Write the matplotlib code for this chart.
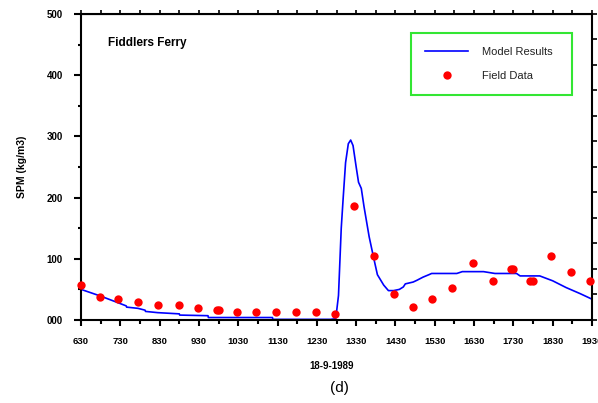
import matplotlib.pyplot as plt
import numpy as np

plt.rcParams['font.family'] = ['Liberation Sans', 'DejaVu Sans']

# time in decimal hours (6.5 = 6:30)
model_t = [6.5, 7.0, 7.45, 7.65, 7.66, 7.95, 8.13, 8.14, 8.45, 9.0, 9.01, 9.73, 9.74,
           11.37, 11.38, 12.85, 12.98, 13.05, 13.12, 13.17, 13.23, 13.3, 13.36, 13.42,
           13.5, 13.56, 13.63, 13.7, 13.83, 13.95, 14.04, 14.2, 14.32, 14.45, 14.6, 14.7,
           14.75, 14.95, 15.05, 15.2, 15.35, 15.42, 16.06, 16.2, 16.74, 17.03, 17.58,
           17.67, 18.17, 18.5, 18.84, 19.2, 19.5]
model_spm = [50, 39, 28, 23, 21, 19, 16, 14, 12, 10, 8, 7, 4,
             4, 1, 1, 2, 40, 150, 200, 257, 288, 294, 285,
             250, 225, 215, 185, 136, 100, 74, 57, 48, 48, 50, 54,
             59, 62, 65, 70, 74, 76, 76, 79, 79, 76, 76,
             72, 72, 64, 53, 43, 34]

field_t = [6.5, 6.98, 7.45, 7.96, 8.47, 8.98, 9.47, 9.95, 10.0, 10.48, 10.95, 11.46,
           11.97, 12.48, 12.95, 13.45, 13.96, 14.47, 14.95, 15.44, 15.95, 16.46, 16.97,
           17.43, 17.5, 17.93, 18.0, 18.45, 18.96, 19.45]
field_spm = [57, 38, 35, 29, 25, 25, 19, 17, 17, 12.6, 12.6, 12.6,
             12.6, 12.6, 9, 187, 105, 42, 22, 35, 53, 93, 64,
             84, 84, 64, 64, 105, 78, 64]

xticks = np.arange(6.5, 19.6, 1.0)
xlabels = ['630', '730', '830', '930', '1030', '1130', '1230', '1330', '1430',
           '1530', '1630', '1730', '1830', '1930']
yticks = [0, 100, 200, 300, 400, 500]
ylabels = ['000', '100', '200', '300', '400', '500']

fig = plt.figure(figsize=(5.98, 4.03), dpi=100)
ax = fig.add_axes([0.1355, 0.206, 0.8545, 0.7593])

ax.plot(model_t, model_spm, color='#0000ff', lw=1.2, label='Model Results', zorder=2)
ax.plot(field_t, field_spm, 'o', color='#ff0000', ms=6, mec='none',
        label='Field Data', zorder=3, clip_on=False)

ax.set_xlim(6.5, 19.5)
ax.set_ylim(0, 500)
ax.set_xticks(xticks)
ax.set_xticklabels(xlabels, fontsize=6.8, fontweight='bold')
ax.set_xticks(np.arange(7.0, 19.5, 1.0), minor=True)
ax.set_yticks(yticks)
ax.set_yticklabels(ylabels, fontsize=7, fontweight='bold')
ax.set_yticks([50, 150, 250, 350, 450], minor=True)

for s in ax.spines.values():
    s.set_linewidth(1.5)
ax.tick_params(axis='y', which='major', direction='out', length=5, width=1.5, pad=8)
ax.tick_params(axis='y', which='minor', direction='out', length=2.5, width=1.5)
ax.tick_params(axis='x', which='major', direction='out', length=4, width=1.5, pad=8)
ax.tick_params(axis='x', which='minor', direction='out', length=3, width=1.5)

# top ticks every half hour
top = ax.secondary_xaxis('top')
top.set_xticks(np.arange(6.5, 19.6, 0.5))
top.set_xticklabels([])
top.tick_params(direction='out', length=3, width=1.2)

# right ticks without labels
right = ax.twinx()
right.set_ylim(0, 12)
right.set_yticks(np.arange(0, 13, 1))
right.set_yticklabels([])
right.tick_params(direction='out', length=3.5, width=1.2)
for s in right.spines.values():
    s.set_visible(False)

ax.set_ylabel('SPM (kg/m3)', fontsize=7.5, fontweight='bold', labelpad=14)
ax.text(0.053, 0.905, 'Fiddlers Ferry', transform=ax.transAxes, fontsize=8.5,
        fontweight='bold', va='center', ha='left')

leg = ax.legend(loc='upper left', bbox_to_anchor=(0.646, 0.748, 0.315, 0.19),
                mode='expand', fontsize=8,
                frameon=True, fancybox=False, borderpad=1.25, labelspacing=1.25,
                handlelength=3.9, handletextpad=1.25, borderaxespad=0)
leg.get_frame().set_edgecolor('#00e000')
leg.get_frame().set_linewidth(1.5)
for t in leg.get_texts():
    t.set_color('#222222')

fig.text(0.555, 0.092, '18-9-1989', fontsize=7, fontweight='bold', ha='center', va='center')
fig.text(0.568, 0.037, '(d)', fontsize=11, ha='center', va='center')

fig.savefig('out.png', dpi=100)
